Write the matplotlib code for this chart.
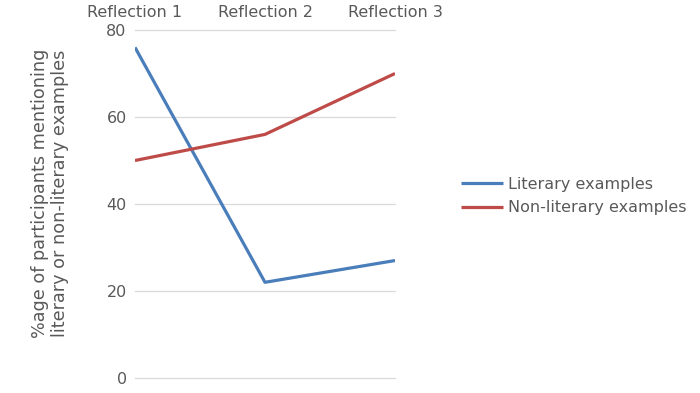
import matplotlib.pyplot as plt

# ---- data ----
categories = ['Reflection 1', 'Reflection 2', 'Reflection 3']
literary = [76, 22, 27]
non_literary = [50, 56, 70]
y_ticks = [0, 20, 40, 60, 80]

text_color = '#595959'
plt.rcParams['font.family'] = ['DejaVu Sans']
plt.rcParams['font.size'] = 10

fig = plt.figure(figsize=(7, 3.93), dpi=100)
ax = fig.add_axes([135/700, 1 - 378/393, 260/700, 348/393])

x = list(range(len(categories)))
ax.plot(x, literary, color='#4a7ebb', lw=2.3, label='Literary examples', solid_capstyle='butt')
ax.plot(x, non_literary, color='#be4b48', lw=2.3, label='Non-literary examples', solid_capstyle='butt')

ax.set_xlim(0, len(categories) - 1)
ax.set_ylim(0, 80)
ax.set_yticks(y_ticks)
ax.yaxis.grid(True, color='#d9d9d9', lw=0.9)
for gl in ax.get_ygridlines():
    gl.set_clip_on(False)
ax.set_axisbelow(True)
for s in ax.spines.values():
    s.set_visible(False)

ax.xaxis.tick_top()
ax.set_xticks(x)
ax.set_xticklabels(categories)
ax.tick_params(axis='x', length=0, pad=7, colors=text_color, labelsize=11.5)
ax.tick_params(axis='y', length=0, pad=6, colors=text_color, labelsize=11.5)

fig.text(50/700, 1 - 193/393, '%age of participants mentioning\nliterary or non-literary examples',
         rotation=90, ha='center', va='center', color=text_color, fontsize=12.7, linespacing=1.1)

leg = fig.legend(loc='center left', bbox_to_anchor=(447/700, 1 - 196/393), frameon=False,
                 handlelength=2.6, handletextpad=0.35, labelspacing=0.55, fontsize=11.5)
for t in leg.get_texts():
    t.set_color(text_color)

fig.savefig('out.png', dpi=100)
